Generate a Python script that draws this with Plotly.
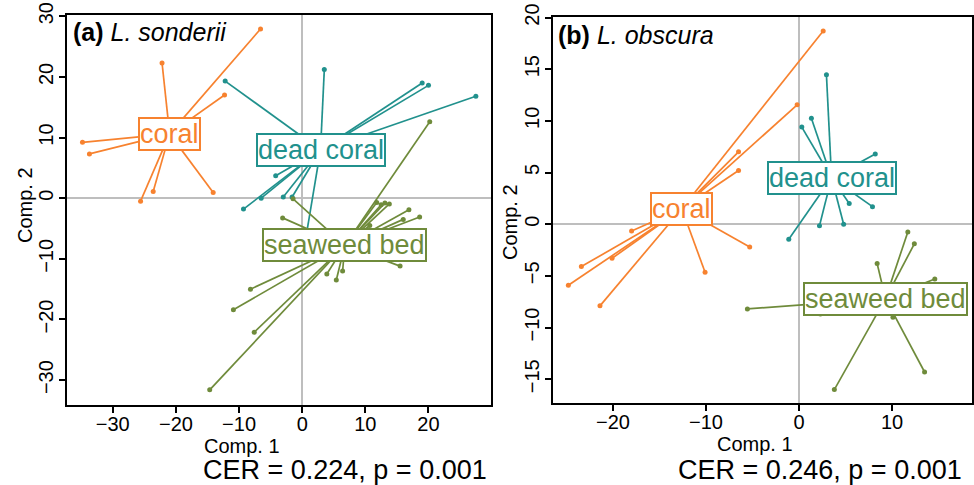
import plotly.graph_objects as go

# ---------------- data: panel (a) L. sonderii ----------------
coral_a_x = [-6.6, -22.2, -12.3, -34.8, -33.7, -23.6, -25.6, -14.1]
coral_a_y = [27.9, 22.3, 17.0, 9.2, 7.3, 1.1, -0.5, 0.95]
coral_a_c = (-21.0, 10.6)

dead_a_x = [-12.2, 3.5, 19.0, 20.0, 27.5, -4.2, -9.3, -6.5, -3.0, -1.6, 0.4]
dead_a_y = [19.3, 21.2, 19.0, 18.6, 16.8, 3.7, -1.8, 0.0, 0.2, 0.2, -7.6]
dead_a_c = (2.9, 7.95)

sea_a_x = [11.8, 12.5, 13.1, 13.8, 16.9, 18.6, 16.0, 10.7, 15.5, 3.9, 5.4, 6.4,
           20.2, -1.45, -3.1, -8.2, -10.9, -7.6, -14.65]
sea_a_y = [-0.7, -1.1, -0.8, -0.95, -1.9, -3.1, -3.5, -4.5, -11.2, -12.5, -13.5, -12.0,
           12.6, -0.1, -3.25, -15.0, -18.4, -22.1, -31.6]
sea_a_c = (6.75, -7.8)

# ---------------- data: panel (b) L. obscura ----------------
coral_b_x = [2.6, -0.2, -6.5, -6.5, -18.0, -23.4, -20.1, -24.8, -21.4, -10.1, -5.3]
coral_b_y = [18.7, 11.55, 7.0, 5.2, -0.65, -4.1, -3.3, -5.9, -7.9, -4.65, -2.2]
coral_b_c = (-12.6, 1.5)

dead_b_x = [2.95, 1.33, 0.3, 8.2, 5.4, 7.9, 2.2, 4.8, -1.1]
dead_b_y = [14.45, 10.26, 9.4, 6.8, 2.0, 1.7, -0.16, 0.0, -1.45]
dead_b_c = (3.5, 4.5)

sea_b_x = [11.7, 12.4, 8.4, 14.6, -5.55, 2.3, 10.1, 13.5, 3.8]
sea_b_y = [-0.75, -1.9, -3.8, -5.3, -8.2, -8.7, -9.0, -14.3, -16.0]
sea_b_c = (9.3, -7.2)

group_names = ["coral", "dead coral", "seaweed bed"]
group_colors = ["#F7822F", "#21918D", "#6F8B3B"]

ticks_a_x = [-30, -20, -10, 0, 10, 20]
ticks_a_y = [-30, -20, -10, 0, 10, 20, 30]
ticks_b_x = [-20, -10, 0, 10]
ticks_b_y = [-15, -10, -5, 0, 5, 10, 15, 20]

stats_a = "CER = 0.224, p = 0.001"
stats_b = "CER = 0.246, p = 0.001"

FONT = "Liberation Sans, Arial, Helvetica, sans-serif"

fig = go.Figure()
annotations = []

panels = [
    ("x", "y", [(coral_a_x, coral_a_y, coral_a_c), (dead_a_x, dead_a_y, dead_a_c), (sea_a_x, sea_a_y, sea_a_c)]),
    ("x2", "y2", [(coral_b_x, coral_b_y, coral_b_c), (dead_b_x, dead_b_y, dead_b_c), (sea_b_x, sea_b_y, sea_b_c)]),
]

for xa, ya, groups in panels:
    for (gx, gy, c), name, col in zip(groups, group_names, group_colors):
        lx, ly = [], []
        for px, py in zip(gx, gy):
            lx += [c[0], px, None]
            ly += [c[1], py, None]
        fig.add_trace(go.Scatter(x=lx, y=ly, mode="lines", line=dict(color=col, width=1.7),
                                 xaxis=xa, yaxis=ya, showlegend=False, hoverinfo="skip"))
        fig.add_trace(go.Scatter(x=gx, y=gy, mode="markers", marker=dict(color=col, size=5),
                                 xaxis=xa, yaxis=ya, showlegend=False, name=name))
    for (gx, gy, c), name, col in zip(groups, group_names, group_colors):
        annotations.append(dict(x=c[0], y=c[1], xref=xa, yref=ya, text=name, showarrow=False,
                                font=dict(family=FONT, size=27, color=col),
                                bgcolor="white", bordercolor=col, borderwidth=2, borderpad=0,
                                xanchor="center", yanchor="middle"))

W, H = 974, 485
def px_x(v):
    return v / W
def px_y(v):
    return 1 - v / H

axis_common = dict(showline=True, linecolor="black", linewidth=2, mirror=True,
                   ticks="outside", ticklen=6, tickwidth=1.5, tickcolor="black",
                   showgrid=False, zeroline=True, zerolinecolor="#BEBEBE", zerolinewidth=2,
                   automargin=False,
                   tickfont=dict(family=FONT, size=20, color="black"))

fig.update_layout(
    width=W, height=H,
    margin=dict(l=0, r=0, t=0, b=0, pad=0),
    paper_bgcolor="white", plot_bgcolor="white",
    xaxis=dict(domain=[px_x(66.7), px_x(491)], range=[-37.3, 29.9], tickvals=ticks_a_x,
               anchor="y", ticklabelstandoff=-6, **axis_common),
    yaxis=dict(domain=[px_y(405), px_y(15)], range=[-34.1, 30.2], tickvals=ticks_a_y,
               tickangle=-90, anchor="x", ticklabelstandoff=-2, **axis_common),
    xaxis2=dict(domain=[px_x(553), px_x(972)], range=[-26.45, 18.6], tickvals=ticks_b_x,
                anchor="y2", ticklabelstandoff=-6, **axis_common),
    yaxis2=dict(domain=[px_y(403), px_y(17)], range=[-17.3, 20.05], tickvals=ticks_b_y,
                tickangle=-90, anchor="x2", ticklabelstandoff=-2, **axis_common),
)

def txt(text, x, y, size, angle=0, xanchor="center"):
    return dict(text=text, x=px_x(x), y=px_y(y), xref="paper", yref="paper", showarrow=False,
                font=dict(family=FONT, size=size, color="black"), textangle=angle,
                xanchor=xanchor, yanchor="middle")

annotations += [
    txt("<b>(a)</b> <i>L. sonderii</i>", 71, 32, 25, xanchor="left"),
    txt("<b>(b)</b> <i>L. obscura</i>", 556, 35, 25, xanchor="left"),
    txt("Comp. 1", 242, 446, 20),
    txt("Comp. 1", 755, 444, 20),
    txt(stats_a, 345, 470, 27),
    txt(stats_b, 820, 470, 27),
    txt("Comp. 2", 25, 205, 20, angle=-90),
    txt("Comp. 2", 510, 222, 20, angle=-90),
]
fig.update_layout(annotations=annotations)

fig.write_html("out.html", config={"displayModeBar": False},
               post_script="document.body.style.margin='0';document.body.style.overflow='hidden';")
